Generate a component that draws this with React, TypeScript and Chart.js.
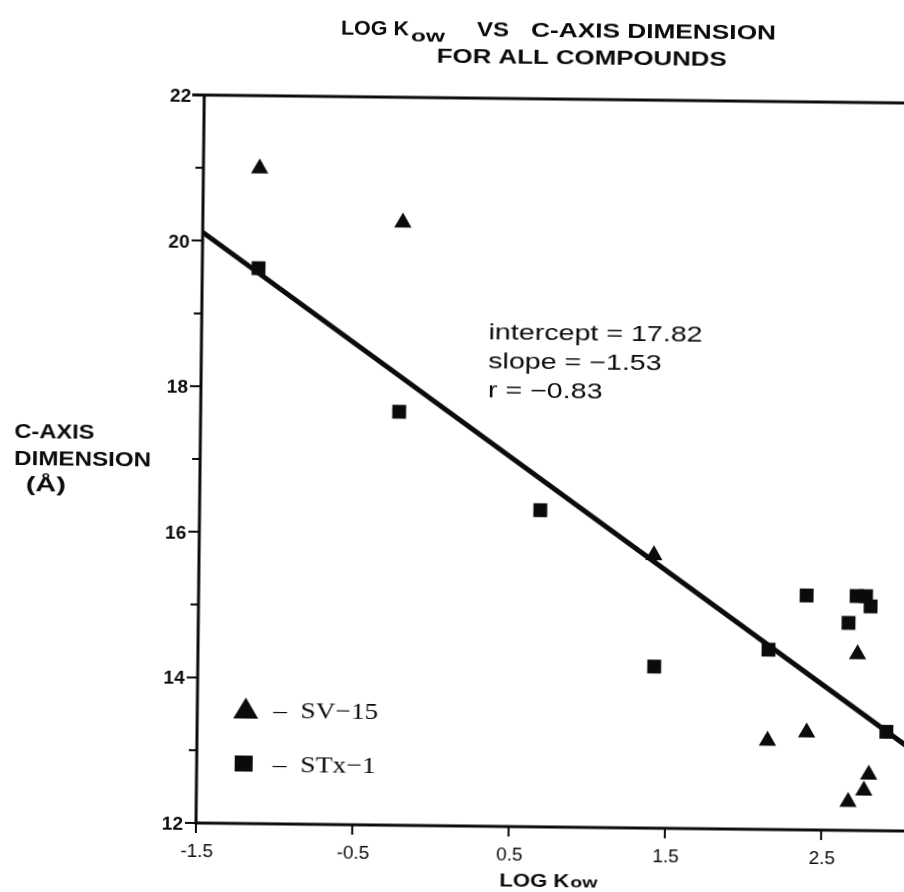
import React, { useEffect, useRef } from "react";
import { Chart, registerables } from "chart.js";

Chart.register(...registerables);

// SV-15 clay (triangles)
const sv15X = [-1.14, -0.22, 1.41, 2.72, 2.15, 2.4, 2.8, 2.77, 2.67];
const sv15Y = [21.0, 20.28, 15.75, 14.42, 13.22, 13.34, 12.77, 12.55, 12.39];
// STx-1 clay (squares)
const stx1X = [-1.14, -0.23, 0.68, 1.42, 2.15, 2.39, 2.71, 2.77, 2.8, 2.66, 2.91];
const stx1Y = [19.63, 17.68, 16.35, 14.22, 14.47, 15.22, 15.22, 15.22, 15.08, 14.85, 13.36];

// least-squares fit over all compounds
const fitIntercept = 17.82;
const fitSlope = -1.53;
const fitR = -0.83;
const fitRange = [-1.5, 3.1];

const xTicks = [-1.5, -0.5, 0.5, 1.5, 2.5];
const xTickLabels = ["-1.5", "-0.5", "0.5", "1.5", "2.5"];
const yTicks = [12, 14, 16, 18, 20, 22];
const yMinorTicks = [13, 15, 17, 19, 21];

const INK = "#0b0b0b";
const SANS = "'Liberation Sans', Arial, Helvetica, sans-serif";
const SERIF = "'Liberation Serif', 'Times New Roman', serif";

function drawText(
  ctx: CanvasRenderingContext2D,
  text: string,
  x: number,
  y: number,
  font: string,
  opts: { width?: number; sx?: number; align?: "left" | "center" | "right" } = {}
) {
  ctx.save();
  ctx.font = font;
  ctx.textBaseline = "alphabetic";
  ctx.textAlign = "left";
  const w = ctx.measureText(text).width;
  const sx = opts.width ? opts.width / w : opts.sx ?? 1;
  const drawnW = w * sx;
  let left = x;
  if (opts.align === "center") left = x - drawnW / 2;
  if (opts.align === "right") left = x - drawnW;
  ctx.translate(left, y);
  ctx.scale(sx, 1);
  ctx.fillStyle = INK;
  ctx.fillText(text, 0, 0);
  ctx.restore();
  return drawnW;
}

const frameAndText = {
  id: "frameAndText",
  afterDraw(chart: any) {
    const { ctx, chartArea } = chart;
    const xs = chart.scales.x;
    const ys = chart.scales.y;
    const { left, right, top, bottom } = chartArea;

    ctx.save();
    ctx.strokeStyle = INK;
    ctx.lineCap = "butt";

    // frame: left axis, bottom axis, top border
    ctx.lineWidth = 3;
    ctx.beginPath();
    ctx.moveTo(left, top - 1.5);
    ctx.lineTo(left, bottom);
    ctx.moveTo(left - 1.5, bottom);
    ctx.lineTo(right + 20, bottom);
    ctx.moveTo(left - 12, top);
    ctx.lineTo(right + 20, top);
    ctx.stroke();

    // y ticks
    ctx.lineWidth = 2;
    ctx.beginPath();
    yTicks.forEach((v) => {
      const py = ys.getPixelForValue(v);
      ctx.moveTo(left - 11, py);
      ctx.lineTo(left, py);
    });
    yMinorTicks.forEach((v) => {
      const py = ys.getPixelForValue(v);
      ctx.moveTo(left - 8, py);
      ctx.lineTo(left, py);
    });
    // x ticks
    xTicks.forEach((v) => {
      const px = xs.getPixelForValue(v);
      ctx.moveTo(px, bottom);
      ctx.lineTo(px, bottom + 10);
    });
    ctx.stroke();

    // tick labels
    yTicks.forEach((v) => {
      const py = ys.getPixelForValue(v);
      drawText(ctx, String(v), left - 13, py + 7, `bold 19px ${SANS}`, { align: "right" });
    });
    xTicks.forEach((v, i) => {
      const px = xs.getPixelForValue(v);
      drawText(ctx, xTickLabels[i], px + 1, bottom + 34, `19px ${SANS}`, { align: "center" });
    });

    // chart title
    drawText(ctx, "LOG K", 332, 33, `bold 20px ${SANS}`, { width: 68 });
    drawText(ctx, "ow", 402, 39, `bold 17px ${SANS}`, { width: 34 });
    drawText(ctx, "VS", 468, 33, `bold 20px ${SANS}`, { width: 32 });
    drawText(ctx, "C-AXIS DIMENSION", 522, 33, `bold 20px ${SANS}`, { width: 245 });
    drawText(ctx, "FOR ALL COMPOUNDS", 428, 60, `bold 20px ${SANS}`, { width: 290 });

    // y-axis title
    drawText(ctx, "C-AXIS", 10, 440, `bold 20px ${SANS}`, { width: 80 });
    drawText(ctx, "DIMENSION", 10, 467, `bold 20px ${SANS}`, { width: 137 });
    drawText(ctx, "(Å)", 22, 493, `bold 20px ${SANS}`, { width: 40 });

    // x-axis title
    drawText(ctx, "LOG K", 500, 883, `bold 19px ${SANS}`, { width: 70 });
    drawText(ctx, "ow", 571, 883, `bold 15px ${SANS}`, { width: 27 });

    // fit statistics
    const statFont = `22px ${SANS}`;
    ctx.font = statFont;
    const sx = 214 / ctx.measureText(`intercept = ${fitIntercept.toFixed(2)}`).width;
    drawText(ctx, `intercept = ${fitIntercept.toFixed(2)}`, 483, 336, statFont, { sx });
    drawText(ctx, `slope = \u2212${Math.abs(fitSlope).toFixed(2)}`, 483, 365, statFont, { sx });
    drawText(ctx, `r = \u2212${Math.abs(fitR).toFixed(2)}`, 483, 394, statFont, { sx });

    // legend
    ctx.fillStyle = INK;
    ctx.beginPath();
    ctx.moveTo(244.5, 697);
    ctx.lineTo(257, 718);
    ctx.lineTo(232, 718);
    ctx.closePath();
    ctx.fill();
    ctx.fillRect(234, 755, 18, 16);
    drawText(ctx, "\u2013  SV\u221215", 272, 717, `24px ${SERIF}`, { width: 105 });
    drawText(ctx, "\u2013  STx\u22121", 272, 771, `24px ${SERIF}`, { width: 103 });

    ctx.restore();
  },
};

export default function App() {
  const canvasRef = useRef<HTMLCanvasElement | null>(null);

  useEffect(() => {
    const canvas = canvasRef.current;
    if (!canvas) return;
    const fitLine = fitRange.map((x) => ({ x, y: fitIntercept + fitSlope * x }));
    const chart = new Chart(canvas, {
      type: "scatter",
      data: {
        datasets: [
          {
            label: "SV-15",
            data: sv15X.map((x, i) => ({ x, y: sv15Y[i] })),
            pointStyle: "triangle",
            pointRadius: 10,
            backgroundColor: INK,
            borderColor: INK,
            borderWidth: 0,
          },
          {
            label: "STx-1",
            data: stx1X.map((x, i) => ({ x, y: stx1Y[i] })),
            pointStyle: "rect",
            pointRadius: 9.8,
            backgroundColor: INK,
            borderColor: INK,
            borderWidth: 0,
          },
          {
            type: "line",
            label: "fit",
            data: fitLine,
            borderColor: INK,
            borderWidth: 5,
            pointRadius: 0,
            fill: false,
          } as any,
        ],
      },
      options: {
        responsive: false,
        animation: false,
        layout: { padding: { left: 196, top: 95, right: 15, bottom: 69 } },
        scales: {
          x: { type: "linear", min: -1.5, max: 3.1, display: false },
          y: { type: "linear", min: 12, max: 22, display: false },
        },
        plugins: { legend: { display: false }, tooltip: { enabled: false } },
      },
      plugins: [frameAndText],
    });
    return () => chart.destroy();
  }, []);

  return (
    <div
      style={{
        position: "fixed",
        left: 0,
        top: 0,
        width: 904,
        height: 892,
        overflow: "hidden",
        background: "#fff",
      }}
    >
      <canvas
        ref={canvasRef}
        width={930}
        height={892}
        style={{
          display: "block",
          width: 930,
          height: 892,
          transform: "rotate(0.65deg)",
          transformOrigin: "196px 823px",
        }}
      />
    </div>
  );
}
